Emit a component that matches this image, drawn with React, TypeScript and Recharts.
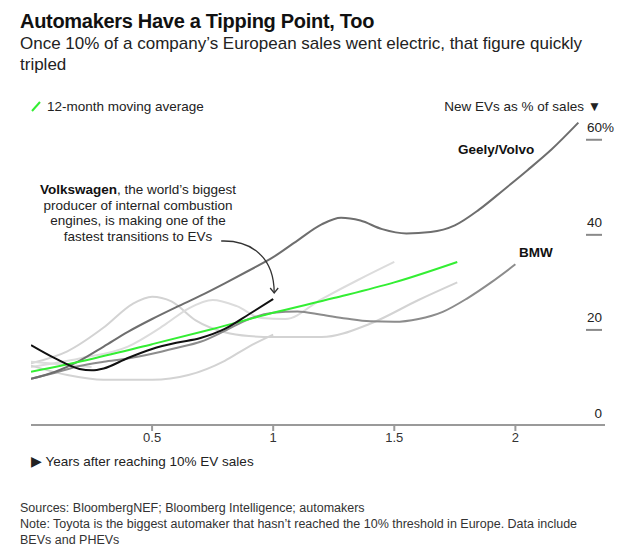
import React from "react";
import { LineChart, Line, XAxis, YAxis, ReferenceDot } from "recharts";

// years after a carmaker hit 10% EV sales, and EV share of new sales (%)
const geelyYears = [0, 0.1, 0.2, 0.3, 0.4, 0.5, 0.6, 0.7, 0.8, 0.9, 1.0, 1.1, 1.2, 1.28, 1.36, 1.45, 1.55, 1.65, 1.75, 1.85, 1.95, 2.05, 2.15, 2.26];
const geelyShare = [9.7, 11.2, 13.5, 16.5, 19.6, 22.3, 24.8, 27.2, 29.8, 32.5, 35.3, 38.8, 42.2, 43.6, 43.0, 41.2, 40.3, 40.6, 42.0, 45.3, 49.4, 53.6, 58.0, 63.6];

const bmwYears = [0, 0.1, 0.2, 0.3, 0.4, 0.5, 0.6, 0.7, 0.8, 0.9, 1.0, 1.1, 1.2, 1.3, 1.4, 1.5, 1.6, 1.7, 1.8, 1.9, 2.0];
const bmwShare = [9.7, 11.0, 12.4, 13.3, 14.0, 15.0, 16.2, 17.5, 19.8, 22.3, 23.6, 23.9, 23.2, 22.4, 21.8, 21.7, 22.3, 23.8, 26.6, 30.0, 33.8];

const vwYears = [0, 0.1, 0.2, 0.25, 0.3, 0.4, 0.5, 0.6, 0.7, 0.8, 0.9, 1.0];
const vwShare = [16.8, 14.0, 11.8, 11.5, 11.9, 14.1, 16.0, 17.3, 18.3, 20.2, 23.3, 26.5];

const avgYears = [0, 0.25, 0.5, 0.75, 1.0, 1.25, 1.5, 1.76];
const avgShare = [11.2, 13.9, 17.0, 20.2, 23.6, 26.7, 30.0, 34.3];

// other automakers, drawn in light gray
const otherAYears = [0, 0.15, 0.3, 0.42, 0.5, 0.58, 0.68, 0.8, 0.9, 1.0, 1.2, 1.4, 1.6, 1.76];
const otherAShare = [13.0, 15.5, 20.5, 25.5, 27.0, 26.0, 22.0, 19.5, 18.7, 18.5, 18.5, 21.3, 26.3, 30.0];

const otherBYears = [0, 0.2, 0.4, 0.55, 0.65, 0.75, 0.85, 0.95, 1.05, 1.2, 1.35, 1.5];
const otherBShare = [12.2, 14.0, 16.5, 21.0, 24.5, 26.3, 25.0, 22.5, 22.3, 26.5, 30.5, 34.3];

const otherCYears = [0, 0.15, 0.3, 0.5, 0.65, 0.8, 0.9, 1.0];
const otherCShare = [12.5, 10.5, 9.5, 9.5, 10.5, 13.5, 16.5, 19.0];

const otherDYears = [0, 0.12, 0.25];
const otherDShare = [13.3, 12.8, 12.2];

const xTicks = [0.5, 1, 1.5, 2];
const yTicks = [0, 20, 40, 60];

const toPoints = (xs: number[], ys: number[]) => xs.map((x, i) => ({ year: x, share: ys[i] }));

const font = '"Liberation Sans", Arial, Helvetica, sans-serif';

function ShareTick(props: any) {
  const { x, y, payload } = props;
  const v = payload.value;
  const right = x - 3;
  return (
    <g>
      {v !== 0 && <line x1={right - 16} x2={right} y1={y} y2={y} stroke="#8a8a8a" strokeWidth={2} />}
      <text x={right} y={y - 7.5} textAnchor="end" fontSize={13.5} fill="#222" fontFamily={font}>
        {v}
      </text>
      {v === 60 && (
        <text x={right} y={y - 7.5} fontSize={13.5} fill="#222" fontFamily={font}>
          %
        </text>
      )}
    </g>
  );
}

function VwArrow(props: any) {
  const { cx, cy } = props;
  if (cx == null || cy == null) return null;
  const tx = cx + 1;
  const ty = cy - 6;
  return (
    <g fill="none" stroke="#333" strokeWidth={1.3}>
      <path d={`M${cx - 52},${cy - 58} C${cx - 22},${cy - 59} ${tx},${cy - 42} ${tx},${ty}`} />
      <path d={`M${tx - 4},${ty - 5} L${tx},${ty} L${tx + 4},${ty - 5}`} />
    </g>
  );
}

export default function App() {
  const lightLines = [
    toPoints(otherAYears, otherAShare),
    toPoints(otherBYears, otherBShare),
    toPoints(otherCYears, otherCShare),
    toPoints(otherDYears, otherDShare),
  ];
  const lastVw = vwYears.length - 1;

  return (
    <div style={{ position: "absolute", left: 0, top: 0, width: 640, height: 557, background: "#fff", fontFamily: font, color: "#111" }}>
      <LineChart width={640} height={557} margin={{ top: 116, right: 34, bottom: 102, left: 31 }} style={{ position: "absolute", left: 0, top: 0 }}>
        <XAxis
          type="number"
          dataKey="year"
          domain={[0, 2.37]}
          ticks={xTicks}
          allowDataOverflow
          stroke="#9a9a9a"
          strokeWidth={2}
          tickSize={6}
          tick={{ fill: "#333", fontSize: 13, fontFamily: font }}
        />
        <YAxis
          orientation="right"
          domain={[0, 65]}
          ticks={yTicks}
          width={1}
          axisLine={false}
          tickLine={false}
          tickSize={0}
          tickMargin={0}
          interval={0}
          tick={(p: any) => <ShareTick {...p} />}
        />
        {lightLines.map((pts, i) => (
          <Line
            key={i}
            data={pts}
            dataKey="share"
            type="monotone"
            stroke={i % 2 === 0 ? "#d3d3d3" : "#dcdcdc"}
            strokeWidth={2}
            dot={false}
            isAnimationActive={false}
          />
        ))}
        <Line data={toPoints(bmwYears, bmwShare)} dataKey="share" type="monotone" stroke="#8c8c8c" strokeWidth={2} dot={false} isAnimationActive={false} />
        <Line data={toPoints(geelyYears, geelyShare)} dataKey="share" type="monotone" stroke="#6e6e6e" strokeWidth={2} dot={false} isAnimationActive={false} />
        <Line data={toPoints(avgYears, avgShare)} dataKey="share" type="monotone" stroke="#33ee33" strokeWidth={2} dot={false} isAnimationActive={false} />
        <Line data={toPoints(vwYears, vwShare)} dataKey="share" type="monotone" stroke="#111" strokeWidth={2} dot={false} isAnimationActive={false} />
        <ReferenceDot x={vwYears[lastVw]} y={vwShare[lastVw]} r={0} ifOverflow="visible" shape={<VwArrow />} />
      </LineChart>

      <div style={{ position: "absolute", left: 20, top: 9, fontSize: 20, fontWeight: 700, letterSpacing: -0.3, lineHeight: "24px", whiteSpace: "nowrap" }}>
        Automakers Have a Tipping Point, Too
      </div>
      <div style={{ position: "absolute", left: 20, top: 33, fontSize: 17, lineHeight: "21px", color: "#222", whiteSpace: "nowrap" }}>
        Once 10% of a company’s European sales went electric, that figure quickly
        <br />
        tripled
      </div>

      <svg style={{ position: "absolute", left: 31, top: 101 }} width={11} height={11}>
        <line x1={1} y1={10} x2={9} y2={1} stroke="#33ee33" strokeWidth={2} />
      </svg>
      <div style={{ position: "absolute", left: 47, top: 99, fontSize: 13.5, lineHeight: "16px", color: "#222", whiteSpace: "nowrap" }}>
        12-month moving average
      </div>
      <div style={{ position: "absolute", right: 39, top: 99, fontSize: 13.5, lineHeight: "16px", color: "#222", whiteSpace: "nowrap" }}>
        New EVs as % of sales ▼
      </div>

      <div style={{ position: "absolute", left: 458, top: 142, fontSize: 13.5, fontWeight: 700, lineHeight: "16px", whiteSpace: "nowrap" }}>
        Geely/Volvo
      </div>
      <div style={{ position: "absolute", left: 519, top: 245, fontSize: 13.5, fontWeight: 700, lineHeight: "16px", whiteSpace: "nowrap" }}>
        BMW
      </div>
      <div style={{ position: "absolute", left: 18, top: 182, width: 240, textAlign: "center", fontSize: 13.5, lineHeight: "15.5px", color: "#222" }}>
        <b style={{ color: "#111" }}>Volkswagen</b>, the world’s biggest
        <br />
        producer of internal combustion
        <br />
        engines, is making one of the
        <br />
        fastest transitions to EVs
      </div>

      <div style={{ position: "absolute", left: 31, top: 454, fontSize: 13.5, lineHeight: "16px", color: "#222", whiteSpace: "nowrap" }}>
        ▶ Years after reaching 10% EV sales
      </div>

      <div style={{ position: "absolute", left: 20, top: 500, fontSize: 12.5, lineHeight: "16px", color: "#333", whiteSpace: "nowrap" }}>
        Sources: BloombergNEF; Bloomberg Intelligence; automakers
        <br />
        Note: Toyota is the biggest automaker that hasn’t reached the 10% threshold in Europe. Data include
        <br />
        BEVs and PHEVs
      </div>
    </div>
  );
}
